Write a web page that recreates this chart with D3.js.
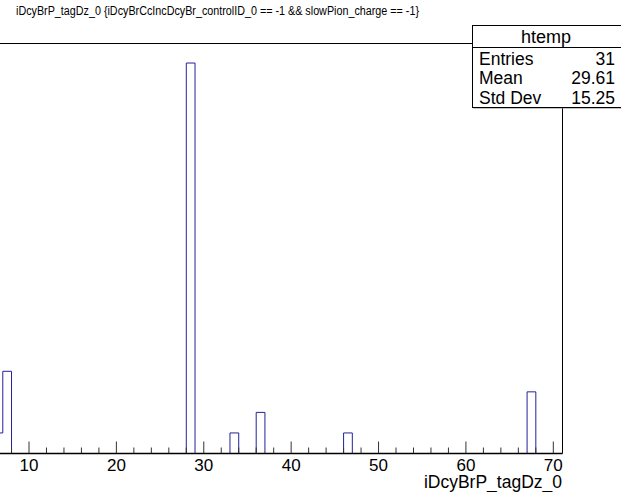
<!DOCTYPE html>
<html><head><meta charset="utf-8">
<script src="https://cdn.jsdelivr.net/npm/d3@7"></script>
<style>body{margin:0;background:#fff;overflow:hidden}svg{display:block}text{font-family:"Liberation Sans",Arial,sans-serif}</style>
</head><body>
<script>
// Data
const title = "iDcyBrP_tagDz_0 {iDcyBrCcIncDcyBr_controlID_0 == -1 && slowPion_charge == -1}";
const xLabel = "iDcyBrP_tagDz_0";
const binLow = [6, 7, 28, 33, 36, 46, 67];
const binCount = [1, 4, 19, 1, 2, 1, 3];
const xTicks = [10, 20, 30, 40, 50, 60, 70];
const statNames = ["Entries", "Mean", "Std Dev"];
const statValues = ["31", "29.61", "15.25"];
const histName = "htemp";
const xMin = 6, xMax = 71, yMax = 19.95;

const W = 621, H = 492;
const svg = d3.select("body").append("svg").attr("width", W).attr("height", H);

const frameTop = 43.5, frameBottom = 453.5, frameRight = 562.5;
const x = d3.scaleLinear().domain([10, 70]).range([29, 553.3]);
const x0 = x(xMin);
const y = d3.scaleLinear().domain([0, yMax]).range([frameBottom, frameTop]);

// frame
svg.append("path")
  .attr("d", `M${x0},${frameTop}H${frameRight}V${frameBottom}`)
  .attr("fill", "none").attr("stroke", "#000").attr("stroke-width", 1);

// histogram step line
const pts = [];
const countMap = new Map(binLow.map((b, i) => [b, binCount[i]]));
pts.push({x: xMin, y: 0});
for (let b = xMin; b < xMax; b++) pts.push({x: b, y: countMap.get(b) || 0});
pts.push({x: xMax, y: 0});
const line = d3.line().x(d => x(d.x)).y(d => y(d.y)).curve(d3.curveStepAfter);
svg.append("path").datum(pts).attr("d", line)
  .attr("fill", "none").attr("stroke", "#22229c").attr("stroke-width", 1);

// x axis ticks (pointing up)
const minor = d3.range(6, 71, 2).filter(v => v % 10 !== 0);
svg.append("g").selectAll("line").data(minor).join("line")
  .attr("x1", d => x(d)).attr("x2", d => x(d))
  .attr("y1", frameBottom).attr("y2", frameBottom - 6)
  .attr("stroke", "#333").attr("stroke-width", 1);
svg.append("g").selectAll("line").data(xTicks).join("line")
  .attr("x1", d => x(d)).attr("x2", d => x(d))
  .attr("y1", frameBottom).attr("y2", frameBottom - 12)
  .attr("stroke", "#333").attr("stroke-width", 1);
svg.append("line").attr("x1", x0).attr("x2", frameRight)
  .attr("y1", frameBottom).attr("y2", frameBottom)
  .attr("stroke", "#000").attr("stroke-width", 1.5);

svg.append("g").selectAll("text").data(xTicks).join("text")
  .attr("x", d => x(d)).attr("y", 471)
  .attr("text-anchor", "middle").attr("font-size", 17)
  .text(d => d);

svg.append("text").attr("x", 562).attr("y", 487.5)
  .attr("text-anchor", "end").attr("font-size", 17.5).text(xLabel);

// title
svg.append("text").attr("x", 16).attr("y", 15).attr("font-size", 12.5)
  .attr("textLength", 403).attr("lengthAdjust", "spacingAndGlyphs").text(title);

// stats box
const bx = 472.5, by = 25.5, bw = 150, bh = 82, hh = 22;
svg.append("rect").attr("x", bx + 1).attr("y", by + 1).attr("width", bw).attr("height", bh).attr("fill", "#888");
svg.append("rect").attr("x", bx).attr("y", by).attr("width", bw).attr("height", bh)
  .attr("fill", "#fff").attr("stroke", "#000").attr("stroke-width", 1);
svg.append("line").attr("x1", bx).attr("x2", bx + bw).attr("y1", by + hh).attr("y2", by + hh)
  .attr("stroke", "#000");
svg.append("text").attr("x", 546).attr("y", by + 17).attr("text-anchor", "middle")
  .attr("font-size", 18).text(histName);
const rowY = [65, 84, 104];
svg.append("g").selectAll("text").data(statNames).join("text")
  .attr("x", 479).attr("y", (d, i) => rowY[i]).attr("font-size", 17.5).text(d => d);
svg.append("g").selectAll("text").data(statValues).join("text")
  .attr("x", 615).attr("y", (d, i) => rowY[i]).attr("text-anchor", "end").attr("font-size", 17.5).text(d => d);
</script>
</body></html>
